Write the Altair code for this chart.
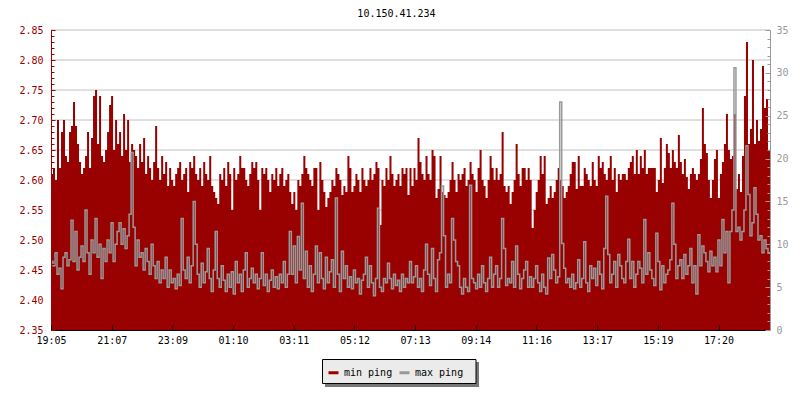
import json
import altair as alt
import pandas as pd

TITLE = "10.150.41.234"
TIME_LABELS = ["19:05", "21:07", "23:09", "01:10", "03:11", "05:12",
               "07:13", "09:14", "11:16", "13:17", "15:19", "17:20"]
LEFT_TICKS = [2.35, 2.40, 2.45, 2.50, 2.55, 2.60, 2.65, 2.70, 2.75, 2.80, 2.85]
RIGHT_TICKS = [0, 5, 10, 15, 20, 25, 30, 35]
SERIES = ["min ping", "max ping"]
COLORS = ["#990000", "#999999"]

MIN_PING = [
    2.61, 2.62, 2.60, 2.70, 2.62, 2.68, 2.70, 2.64, 2.63, 2.68,
    2.69, 2.73, 2.69, 2.66, 2.63, 2.61, 2.62, 2.64, 2.68, 2.62,
    2.67, 2.74, 2.75, 2.66, 2.74, 2.64, 2.63, 2.65, 2.68, 2.725,
    2.74, 2.65, 2.70, 2.66, 2.68, 2.64, 2.71, 2.65, 2.70, 2.63,
    2.66, 2.65, 2.64, 2.62, 2.66, 2.63, 2.67, 2.61, 2.64, 2.62,
    2.60, 2.63, 2.69, 2.62, 2.60, 2.64, 2.61, 2.63, 2.59, 2.62,
    2.60, 2.59, 2.61, 2.62, 2.63, 2.60, 2.61, 2.62, 2.58, 2.63,
    2.62, 2.64, 2.61, 2.60, 2.62, 2.59, 2.63, 2.61, 2.60, 2.64,
    2.59, 2.58, 2.57, 2.56, 2.61, 2.60, 2.62, 2.59, 2.63, 2.61,
    2.55, 2.62, 2.60, 2.61, 2.64, 2.62, 2.62, 2.60, 2.59, 2.61,
    2.63, 2.62, 2.63, 2.60, 2.55, 2.62, 2.61, 2.62, 2.60, 2.58,
    2.61, 2.60, 2.62, 2.59, 2.61, 2.62, 2.59, 2.60, 2.61, 2.58,
    2.56, 2.58, 2.55, 2.60, 2.59, 2.61, 2.64, 2.62, 2.61, 2.60,
    2.59, 2.62, 2.62, 2.55, 2.63, 2.60, 2.58, 2.555, 2.57, 2.58,
    2.60, 2.59, 2.62, 2.61, 2.60, 2.575, 2.59, 2.58, 2.64, 2.62,
    2.58, 2.59, 2.61, 2.60, 2.58, 2.62, 2.60, 2.59, 2.60, 2.62,
    2.60, 2.61, 2.63, 2.62, 2.525, 2.60, 2.59, 2.62, 2.60, 2.64,
    2.61, 2.59, 2.60, 2.61, 2.59, 2.62, 2.61, 2.62, 2.575, 2.62,
    2.59, 2.62, 2.60, 2.67, 2.63, 2.61, 2.60, 2.64, 2.61, 2.60,
    2.65, 2.64, 2.57, 2.585, 2.64, 2.58, 2.575, 2.57, 2.58, 2.60,
    2.63, 2.60, 2.58, 2.61, 2.60, 2.61, 2.62, 2.59, 2.60, 2.63,
    2.61, 2.60, 2.58, 2.62, 2.65, 2.60, 2.59, 2.57, 2.60, 2.64,
    2.62, 2.60, 2.62, 2.60, 2.61, 2.68, 2.59, 2.58, 2.59, 2.56,
    2.58, 2.60, 2.66, 2.61, 2.59, 2.62, 2.62, 2.60, 2.62, 2.60,
    2.52, 2.55, 2.58, 2.60, 2.64, 2.61, 2.64, 2.56, 2.57, 2.59,
    2.57, 2.58, 2.60, 2.62, 2.60, 2.59, 2.57, 2.58, 2.59, 2.61,
    2.63, 2.63, 2.585, 2.64, 2.59, 2.59, 2.62, 2.61, 2.60, 2.59,
    2.63, 2.60, 2.59, 2.64, 2.62, 2.63, 2.61, 2.60, 2.62, 2.64,
    2.60, 2.62, 2.58, 2.61, 2.60, 2.61, 2.61, 2.60, 2.62, 2.63,
    2.64, 2.61, 2.65, 2.61, 2.64, 2.62, 2.65, 2.61, 2.62, 2.62,
    2.62, 2.62, 2.58, 2.60, 2.67, 2.595, 2.62, 2.66, 2.645, 2.62,
    2.65, 2.63, 2.62, 2.675, 2.63, 2.61, 2.635, 2.605, 2.585, 2.61,
    2.62, 2.61, 2.60, 2.61, 2.635, 2.72, 2.66, 2.645, 2.60, 2.57,
    2.60, 2.635, 2.65, 2.57, 2.61, 2.63, 2.66, 2.71, 2.65, 2.635,
    2.64, 2.71, 2.585, 2.61, 2.58, 2.64, 2.74, 2.83, 2.66, 2.685,
    2.80, 2.66, 2.70, 2.665, 2.685, 2.79, 2.72, 2.735, 2.65,
]

MAX_PING = [
    8.0, 7.5, 9.0, 6.5, 7.2, 4.8, 8.5, 9.0, 7.5, 8.2,
    12.8, 8.0, 11.5, 7.0, 8.5, 9.8, 8.0, 14.0, 9.0, 6.5,
    10.5, 9.0, 13.0, 8.5, 10.0, 6.0, 9.5, 8.0, 10.5, 9.0,
    12.5, 8.0, 10.0, 11.5, 12.5, 10.0, 11.8, 9.5, 11.0, 13.5,
    20.7, 12.0, 7.5, 10.5, 8.5, 9.0, 7.0, 9.5, 8.0, 6.5,
    10.0, 7.5, 6.0, 8.0, 5.5, 7.0, 6.0, 8.5, 5.0, 7.0,
    5.5, 6.0, 4.8, 6.5, 5.2, 13.0, 7.0, 6.0, 8.5, 5.5,
    7.5, 15.0, 10.0, 6.5, 5.0, 7.8, 5.5, 6.8, 9.5, 6.0,
    4.5, 7.0, 11.5, 6.0, 5.0, 7.5, 5.8, 4.5, 6.5, 5.0,
    6.8, 4.2, 8.0, 5.5, 6.5, 4.5, 7.0, 9.0, 5.0, 6.0,
    7.2, 5.5, 6.5, 4.8, 6.0, 9.0, 5.2, 6.5, 4.5, 5.8,
    7.0, 5.0, 6.2, 4.8, 6.5, 5.5, 8.0, 5.0, 6.5, 11.5,
    6.5, 9.8, 5.5, 10.9, 7.0, 14.8, 6.0, 9.2, 5.0, 7.5,
    4.5, 6.5, 9.8, 5.5, 9.0, 6.0, 4.8, 8.5, 5.5, 6.8,
    8.2, 5.0, 15.4, 6.5, 4.5, 9.2, 6.0, 7.5, 5.0, 6.2,
    4.8, 7.0, 5.5, 6.0, 4.2, 5.8, 6.5, 8.5, 5.0, 7.5,
    5.5, 4.0, 6.0, 14.2, 5.0, 4.5, 6.0, 5.5, 7.8, 6.0,
    4.8, 6.5, 5.2, 5.8, 4.5, 6.5, 5.0, 6.0, 5.5, 8.0,
    5.5, 6.2, 7.5, 5.0, 6.0, 4.5, 7.0, 10.0, 6.5, 5.2,
    9.5, 6.0, 4.5, 8.2, 9.0, 16.8, 11.0, 5.0, 6.5, 5.5,
    13.0, 10.5, 8.0, 7.5, 5.0, 4.2, 6.0, 5.0, 4.5, 16.9,
    6.0, 5.5, 4.8, 6.5, 5.0, 7.5, 5.5, 4.5, 6.0, 8.5,
    5.0, 6.5, 7.5, 5.0, 6.0, 13.0, 9.5, 5.2, 6.0, 5.5,
    8.0, 5.0, 9.8, 6.5, 4.8, 6.0, 7.0, 8.0, 5.0, 6.2,
    5.0, 6.0, 7.5, 5.5, 4.5, 6.5, 5.0, 4.2, 8.4, 6.0,
    8.8, 7.0, 5.5, 6.2, 26.6, 10.1, 7.2, 5.5, 6.0, 5.0,
    6.5, 4.8, 5.5, 8.2, 5.0, 6.0, 10.3, 5.5, 4.5, 7.5,
    6.0, 7.2, 5.2, 8.0, 6.5, 4.8, 9.5, 15.6, 8.8, 5.5,
    6.5, 8.0, 5.0, 8.8, 7.5, 6.0, 5.5, 8.0, 10.6, 6.0,
    8.0, 5.0, 6.5, 8.0, 7.2, 5.5, 12.9, 6.5, 9.0, 7.0,
    6.0, 5.2, 11.3, 8.0, 4.7, 7.5, 5.5, 6.5, 7.0, 8.2,
    14.8, 10.0, 6.0, 7.5, 8.2, 6.0, 8.8, 6.5, 7.5, 9.5,
    5.5, 7.5, 4.2, 11.1, 7.5, 9.8, 9.0, 8.0, 6.8, 9.2,
    7.5, 8.5, 6.8, 10.5, 7.5, 12.9, 9.0, 11.5, 5.5, 11.5,
    14.0, 30.6, 11.5, 12.0, 10.5, 11.5, 14.0, 21.5, 15.8, 11.0,
    12.5, 16.6, 13.5, 10.5, 11.0, 9.0, 10.5, 9.5, 9.0,
]

FONT = "DejaVu Sans Mono"
n = len(MIN_PING)
TICK_STEP = 30.3
TICK_POS = [round(k * TICK_STEP, 2) for k in range(len(TIME_LABELS))]
LEFT_MINOR = [round(2.35 + k * 0.01, 2) for k in range(51)]
RIGHT_MINOR = list(range(36))

df = pd.DataFrame({
    "i": list(range(n)) + [n],
    "minp": MIN_PING + [MIN_PING[-1]],
    "maxp": MAX_PING + [MAX_PING[-1]],
})

xs = dict(domain=[0, n], nice=False, zero=False)
yl = dict(domain=[2.35, 2.85], nice=False, zero=False)
yr = dict(domain=[0, 35], nice=False, zero=False)

label_expr = json.dumps(TIME_LABELS) + "[round(datum.value / %s)]" % TICK_STEP

grid = alt.Chart(pd.DataFrame({"g": LEFT_TICKS[1:]})).mark_rule(
    color="#c0c0c0", strokeWidth=1
).encode(y=alt.Y("g:Q", scale=alt.Scale(**yl), axis=None))

area = alt.Chart(df).mark_area(
    interpolate="step-after", color=COLORS[0], clip=True
).encode(
    x=alt.X("i:Q", scale=alt.Scale(**xs), axis=alt.Axis(
        orient="bottom", values=TICK_POS, labelExpr=label_expr, ticks=False,
        grid=False, domainColor="black", domainWidth=1, labelColor="black",
        labelPadding=5, labelFlush=False, title=None, labelFont=FONT,
        labelFontSize=10, zindex=1)),
    y=alt.Y("minp:Q", scale=alt.Scale(**yl), axis=alt.Axis(
        orient="left", values=LEFT_TICKS, format=".2f", ticks=False, grid=False,
        domainColor=COLORS[0], labelColor=COLORS[0], labelPadding=8, title=None,
        labelFont=FONT, labelFontSize=10, zindex=1)),
    y2=alt.datum(2.35),
)

line = alt.Chart(df).mark_line(
    interpolate="step-after", color=COLORS[1], strokeWidth=1.5, clip=True
).encode(
    x=alt.X("i:Q", scale=alt.Scale(**xs), axis=None),
    y=alt.Y("maxp:Q", scale=alt.Scale(**yr), axis=alt.Axis(
        orient="right", values=RIGHT_TICKS, ticks=False, grid=False,
        domainColor=COLORS[1], labelColor=COLORS[1], labelPadding=6, title=None,
        labelFont=FONT, labelFontSize=10, zindex=1)),
)


def tick_layer(channel, scale, values, orient, size, color):
    ax = alt.Axis(orient=orient, values=values, offset=-size, tickSize=size,
                  tickColor=color, tickWidth=1, labels=False, domain=False,
                  grid=False, title=None, zindex=2)
    d = pd.DataFrame({"v": values})
    base = alt.Chart(d).mark_point(opacity=0)
    if channel == "y":
        return base.encode(y=alt.Y("v:Q", scale=alt.Scale(**scale), axis=ax))
    return base.encode(x=alt.X("v:Q", scale=alt.Scale(**scale), axis=ax))


t1 = tick_layer("y", yl, LEFT_TICKS, "left", 4, COLORS[0])
t2 = tick_layer("y", yl, LEFT_MINOR, "left", 3, COLORS[0])
t3 = tick_layer("y", yr, RIGHT_TICKS, "right", 5, COLORS[1])
t4 = tick_layer("y", yr, RIGHT_MINOR, "right", 3, COLORS[1])
t5 = tick_layer("x", xs, TICK_POS, "bottom", 5, "black")

# legend frame: drop shadow and box
shadow = alt.Chart(pd.DataFrame({"s": [0]})).mark_rect(color="#777777").encode(
    x=alt.value(274), x2=alt.value(428), y=alt.value(332), y2=alt.value(357)
)
box = alt.Chart(pd.DataFrame({"s": [0]})).mark_rect(
    fill="#ebebeb", stroke="black", strokeWidth=1
).encode(
    x=alt.value(271.5), x2=alt.value(425), y=alt.value(329.5), y2=alt.value(353.5)
)

leg_df = pd.DataFrame({"series": SERIES * 2, "i": [-10, -10, -9, -9], "v": [0, 0, 0, 0]})
legend_layer = alt.Chart(leg_df).mark_line(strokeWidth=3, clip=True).encode(
    x=alt.X("i:Q", scale=alt.Scale(domain=[0, 1]), axis=None),
    y=alt.Y("v:Q", scale=alt.Scale(domain=[0, 1]), axis=None),
    color=alt.Color("series:N", scale=alt.Scale(domain=SERIES, range=COLORS),
                    legend=alt.Legend(
                        orient="none", legendX=276, legendY=336,
                        direction="horizontal", title=None,
                        padding=0, symbolType="stroke", symbolStrokeWidth=3,
                        symbolSize=100, labelFont=FONT, labelFontSize=10,
                        labelColor="black", columnPadding=0, labelOffset=4)),
)

chart = alt.layer(
    grid, area, line, t1, t2, t3, t4, t5, shadow, box, legend_layer
).resolve_scale(
    x="independent", y="independent"
).properties(
    width=719, height=300,
    title=alt.Title(TITLE, font=FONT, fontSize=10, fontWeight="normal",
                    color="black", offset=6, dx=-14, anchor="middle"),
    autosize=alt.AutoSizeParams(type="none"),
    padding={"left": 43, "top": 22, "right": 22, "bottom": 62},
    background="white",
).configure_view(stroke=None)

chart.save("out.html", embed_options={"renderer": "svg", "actions": False})
